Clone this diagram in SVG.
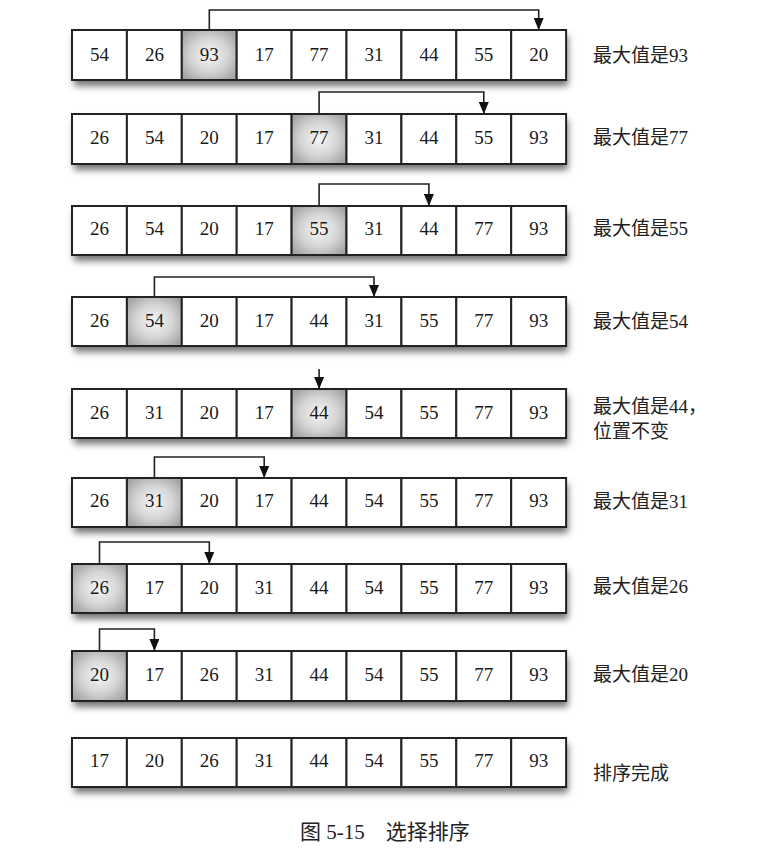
<svg xmlns="http://www.w3.org/2000/svg" width="760" height="858" viewBox="0 0 760 858">
<defs>
<style>
.c{fill:#fff;stroke:#222;stroke-width:2}
.h{fill:url(#hg);stroke:#222;stroke-width:2}
.n{font-family:"Liberation Serif","Times New Roman","DejaVu Serif",serif;font-size:19px;fill:#1a1a1a;text-anchor:middle}
.l{font-family:"Liberation Serif","Times New Roman","Noto Sans CJK SC",serif;font-size:19px;fill:#222}
.a{fill:none;stroke:#222;stroke-width:1.6}
.cap{font-family:"Liberation Serif","Times New Roman","Noto Sans CJK SC",serif;font-size:21px;fill:#222}
</style>
<radialGradient id="hg" cx="0.5" cy="0.5" r="0.62">
<stop offset="0" stop-color="#f6f6f6"/>
<stop offset="0.55" stop-color="#d4d4d4"/>
<stop offset="1" stop-color="#a4a4a4"/>
</radialGradient>
<filter id="sh" x="-5%" y="-30%" width="112%" height="180%">
<feDropShadow dx="2" dy="6" stdDeviation="3.5" flood-color="#000" flood-opacity="0.55"/>
</filter>
<marker id="ar" viewBox="0 0 10 12" refX="5" refY="12" markerWidth="10" markerHeight="12" markerUnits="userSpaceOnUse" orient="0">
<path d="M0,0 L10,0 L5,12 z" fill="#111"/>
</marker>
</defs>
<rect width="760" height="858" fill="#fff"/>

<g id="row1" transform="translate(72,30)">
<rect x="0" y="0" width="494" height="50" fill="#fff" filter="url(#sh)"/>
<rect class="c" x="0" y="0" width="54.9" height="50"/><rect class="c" x="54.9" y="0" width="54.9" height="50"/><rect class="h" x="109.8" y="0" width="54.9" height="50"/><rect class="c" x="164.7" y="0" width="54.9" height="50"/><rect class="c" x="219.6" y="0" width="54.9" height="50"/><rect class="c" x="274.5" y="0" width="54.9" height="50"/><rect class="c" x="329.4" y="0" width="54.9" height="50"/><rect class="c" x="384.3" y="0" width="54.9" height="50"/><rect class="c" x="439.2" y="0" width="54.9" height="50"/>
<text class="n" y="31"><tspan x="27.5">54</tspan><tspan x="82.4">26</tspan><tspan x="137.3">93</tspan><tspan x="192.2">17</tspan><tspan x="247.1">77</tspan><tspan x="302">31</tspan><tspan x="356.9">44</tspan><tspan x="411.8">55</tspan><tspan x="466.7">20</tspan></text>
<text class="l" x="521" y="32">最大值是93</text>
</g>

<g id="row2" transform="translate(72,114)">
<rect x="0" y="0" width="494" height="50" fill="#fff" filter="url(#sh)"/>
<rect class="c" x="0" y="0" width="54.9" height="50"/><rect class="c" x="54.9" y="0" width="54.9" height="50"/><rect class="c" x="109.8" y="0" width="54.9" height="50"/><rect class="c" x="164.7" y="0" width="54.9" height="50"/><rect class="h" x="219.6" y="0" width="54.9" height="50"/><rect class="c" x="274.5" y="0" width="54.9" height="50"/><rect class="c" x="329.4" y="0" width="54.9" height="50"/><rect class="c" x="384.3" y="0" width="54.9" height="50"/><rect class="c" x="439.2" y="0" width="54.9" height="50"/>
<text class="n" y="30"><tspan x="27.5">26</tspan><tspan x="82.4">54</tspan><tspan x="137.3">20</tspan><tspan x="192.2">17</tspan><tspan x="247.1">77</tspan><tspan x="302">31</tspan><tspan x="356.9">44</tspan><tspan x="411.8">55</tspan><tspan x="466.7">93</tspan></text>
<text class="l" x="521" y="30">最大值是77</text>
</g>

<g id="row3" transform="translate(72,206)">
<rect x="0" y="0" width="494" height="49" fill="#fff" filter="url(#sh)"/>
<rect class="c" x="0" y="0" width="54.9" height="49"/><rect class="c" x="54.9" y="0" width="54.9" height="49"/><rect class="c" x="109.8" y="0" width="54.9" height="49"/><rect class="c" x="164.7" y="0" width="54.9" height="49"/><rect class="h" x="219.6" y="0" width="54.9" height="49"/><rect class="c" x="274.5" y="0" width="54.9" height="49"/><rect class="c" x="329.4" y="0" width="54.9" height="49"/><rect class="c" x="384.3" y="0" width="54.9" height="49"/><rect class="c" x="439.2" y="0" width="54.9" height="49"/>
<text class="n" y="29"><tspan x="27.5">26</tspan><tspan x="82.4">54</tspan><tspan x="137.3">20</tspan><tspan x="192.2">17</tspan><tspan x="247.1">55</tspan><tspan x="302">31</tspan><tspan x="356.9">44</tspan><tspan x="411.8">77</tspan><tspan x="466.7">93</tspan></text>
<text class="l" x="521" y="29">最大值是55</text>
</g>

<g id="row4" transform="translate(72,297)">
<rect x="0" y="0" width="494" height="49" fill="#fff" filter="url(#sh)"/>
<rect class="c" x="0" y="0" width="54.9" height="49"/><rect class="h" x="54.9" y="0" width="54.9" height="49"/><rect class="c" x="109.8" y="0" width="54.9" height="49"/><rect class="c" x="164.7" y="0" width="54.9" height="49"/><rect class="c" x="219.6" y="0" width="54.9" height="49"/><rect class="c" x="274.5" y="0" width="54.9" height="49"/><rect class="c" x="329.4" y="0" width="54.9" height="49"/><rect class="c" x="384.3" y="0" width="54.9" height="49"/><rect class="c" x="439.2" y="0" width="54.9" height="49"/>
<text class="n" y="30"><tspan x="27.5">26</tspan><tspan x="82.4">54</tspan><tspan x="137.3">20</tspan><tspan x="192.2">17</tspan><tspan x="247.1">44</tspan><tspan x="302">31</tspan><tspan x="356.9">55</tspan><tspan x="411.8">77</tspan><tspan x="466.7">93</tspan></text>
<text class="l" x="521" y="31">最大值是54</text>
</g>

<g id="row5" transform="translate(72,389)">
<rect x="0" y="0" width="494" height="49" fill="#fff" filter="url(#sh)"/>
<rect class="c" x="0" y="0" width="54.9" height="49"/><rect class="c" x="54.9" y="0" width="54.9" height="49"/><rect class="c" x="109.8" y="0" width="54.9" height="49"/><rect class="c" x="164.7" y="0" width="54.9" height="49"/><rect class="h" x="219.6" y="0" width="54.9" height="49"/><rect class="c" x="274.5" y="0" width="54.9" height="49"/><rect class="c" x="329.4" y="0" width="54.9" height="49"/><rect class="c" x="384.3" y="0" width="54.9" height="49"/><rect class="c" x="439.2" y="0" width="54.9" height="49"/>
<text class="n" y="30"><tspan x="27.5">26</tspan><tspan x="82.4">31</tspan><tspan x="137.3">20</tspan><tspan x="192.2">17</tspan><tspan x="247.1">44</tspan><tspan x="302">54</tspan><tspan x="356.9">55</tspan><tspan x="411.8">77</tspan><tspan x="466.7">93</tspan></text>
<text class="l" x="521" y="24">最大值是44，</text>
<text class="l" x="521" y="49">位置不变</text>
</g>

<g id="row6" transform="translate(72,478)">
<rect x="0" y="0" width="494" height="49" fill="#fff" filter="url(#sh)"/>
<rect class="c" x="0" y="0" width="54.9" height="49"/><rect class="h" x="54.9" y="0" width="54.9" height="49"/><rect class="c" x="109.8" y="0" width="54.9" height="49"/><rect class="c" x="164.7" y="0" width="54.9" height="49"/><rect class="c" x="219.6" y="0" width="54.9" height="49"/><rect class="c" x="274.5" y="0" width="54.9" height="49"/><rect class="c" x="329.4" y="0" width="54.9" height="49"/><rect class="c" x="384.3" y="0" width="54.9" height="49"/><rect class="c" x="439.2" y="0" width="54.9" height="49"/>
<text class="n" y="29"><tspan x="27.5">26</tspan><tspan x="82.4">31</tspan><tspan x="137.3">20</tspan><tspan x="192.2">17</tspan><tspan x="247.1">44</tspan><tspan x="302">54</tspan><tspan x="356.9">55</tspan><tspan x="411.8">77</tspan><tspan x="466.7">93</tspan></text>
<text class="l" x="521" y="30">最大值是31</text>
</g>

<g id="row7" transform="translate(72,564)">
<rect x="0" y="0" width="494" height="49" fill="#fff" filter="url(#sh)"/>
<rect class="h" x="0" y="0" width="54.9" height="49"/><rect class="c" x="54.9" y="0" width="54.9" height="49"/><rect class="c" x="109.8" y="0" width="54.9" height="49"/><rect class="c" x="164.7" y="0" width="54.9" height="49"/><rect class="c" x="219.6" y="0" width="54.9" height="49"/><rect class="c" x="274.5" y="0" width="54.9" height="49"/><rect class="c" x="329.4" y="0" width="54.9" height="49"/><rect class="c" x="384.3" y="0" width="54.9" height="49"/><rect class="c" x="439.2" y="0" width="54.9" height="49"/>
<text class="n" y="30"><tspan x="27.5">26</tspan><tspan x="82.4">17</tspan><tspan x="137.3">20</tspan><tspan x="192.2">31</tspan><tspan x="247.1">44</tspan><tspan x="302">54</tspan><tspan x="356.9">55</tspan><tspan x="411.8">77</tspan><tspan x="466.7">93</tspan></text>
<text class="l" x="521" y="29">最大值是26</text>
</g>

<g id="row8" transform="translate(72,651)">
<rect x="0" y="0" width="494" height="50" fill="#fff" filter="url(#sh)"/>
<rect class="h" x="0" y="0" width="54.9" height="50"/><rect class="c" x="54.9" y="0" width="54.9" height="50"/><rect class="c" x="109.8" y="0" width="54.9" height="50"/><rect class="c" x="164.7" y="0" width="54.9" height="50"/><rect class="c" x="219.6" y="0" width="54.9" height="50"/><rect class="c" x="274.5" y="0" width="54.9" height="50"/><rect class="c" x="329.4" y="0" width="54.9" height="50"/><rect class="c" x="384.3" y="0" width="54.9" height="50"/><rect class="c" x="439.2" y="0" width="54.9" height="50"/>
<text class="n" y="30"><tspan x="27.5">20</tspan><tspan x="82.4">17</tspan><tspan x="137.3">26</tspan><tspan x="192.2">31</tspan><tspan x="247.1">44</tspan><tspan x="302">54</tspan><tspan x="356.9">55</tspan><tspan x="411.8">77</tspan><tspan x="466.7">93</tspan></text>
<text class="l" x="521" y="30">最大值是20</text>
</g>

<g id="row9" transform="translate(72,738)">
<rect x="0" y="0" width="494" height="49" fill="#fff" filter="url(#sh)"/>
<rect class="c" x="0" y="0" width="54.9" height="49"/><rect class="c" x="54.9" y="0" width="54.9" height="49"/><rect class="c" x="109.8" y="0" width="54.9" height="49"/><rect class="c" x="164.7" y="0" width="54.9" height="49"/><rect class="c" x="219.6" y="0" width="54.9" height="49"/><rect class="c" x="274.5" y="0" width="54.9" height="49"/><rect class="c" x="329.4" y="0" width="54.9" height="49"/><rect class="c" x="384.3" y="0" width="54.9" height="49"/><rect class="c" x="439.2" y="0" width="54.9" height="49"/>
<text class="n" y="29"><tspan x="27.5">17</tspan><tspan x="82.4">20</tspan><tspan x="137.3">26</tspan><tspan x="192.2">31</tspan><tspan x="247.1">44</tspan><tspan x="302">54</tspan><tspan x="356.9">55</tspan><tspan x="411.8">77</tspan><tspan x="466.7">93</tspan></text>
<text class="l" x="521" y="42">排序完成</text>
</g>

<g id="connectors">
<path class="a" d="M209.3,30 V10 H538.7 V30" marker-end="url(#ar)"/>
<path class="a" d="M319.1,114 V92 H483.8 V114" marker-end="url(#ar)"/>
<path class="a" d="M319.1,206 V184 H428.9 V206" marker-end="url(#ar)"/>
<path class="a" d="M154.4,297 V277 H374 V297" marker-end="url(#ar)"/>
<path class="a" d="M319.1,369 V389" marker-end="url(#ar)"/>
<path class="a" d="M154.4,478 V457 H264.2 V478" marker-end="url(#ar)"/>
<path class="a" d="M99.5,564 V542 H209.3 V564" marker-end="url(#ar)"/>
<path class="a" d="M99.5,651 V629 H154.4 V651" marker-end="url(#ar)"/>
</g>

<text class="cap" x="300" y="839" xml:space="preserve">图 5-15    选择排序</text>
</svg>
